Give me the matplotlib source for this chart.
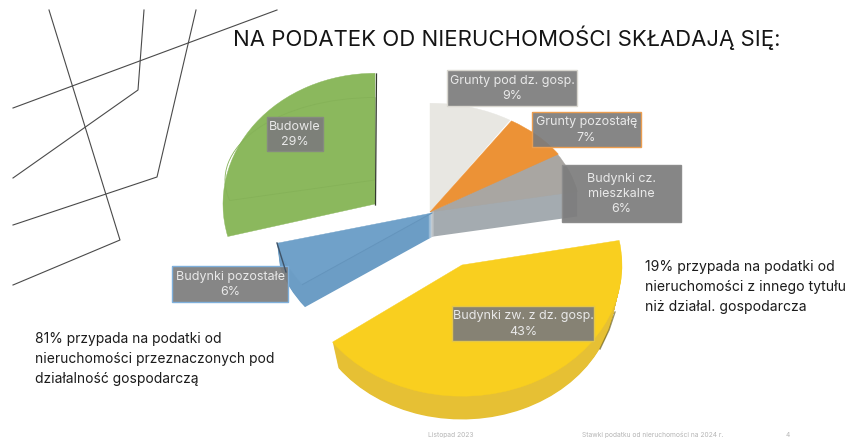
# -*- coding: utf-8 -*-
"""
exploded 3D-looking pie of the property tax shares, drawn from flat wedges
"""

import matplotlib
matplotlib.use('Agg')
import matplotlib.pyplot as plt
import numpy as np
from matplotlib.patches import Rectangle, Wedge
from matplotlib.transforms import Affine2D

plt.rcParams['font.family'] = ['Inter', 'DejaVu Sans']

# data, clockwise from twelve o'clock
categories = ['Grunty pod dz. gosp.', 'Grunty pozostałę', 'Budynki cz.\nmieszkalne',
              'Budynki zw. z dz. gosp.', 'Budynki pozostałe', 'Budowle']
shares = [9, 7, 6, 43, 6, 29]

title = 'NA PODATEK OD NIERUCHOMOŚCI SKŁADAJĄ SIĘ:'
note_left = '81% przypada na podatki od\nnieruchomości przeznaczonych pod\ndziałalność gospodarczą'
note_right = '19% przypada na podatki od\nnieruchomości z innego tytułu\nniż działal. gospodarcza'
footer = ['Listopad 2023', 'Stawki podatku od nieruchomości na 2024 r.', '4']

# look of each slice, in pixels of the picture
apex_x = [430, 430, 430, 462, 432, 375]
apex_y = [212, 212, 212, 265, 213, 204]
radius = [149, 152, 150, 160, 160, 152]
squash = [0.73, 0.71, 0.73, 0.82, 0.76, 0.86]
depth = [0, 0, 25, 29, 24, 0]
shrink = [0, 0, 0, 7, 3, 0]
top_col = ['#e8e7e2', '#ec9236', '#a9a6a2', '#f9cf1f', '#70a1c9', '#8bb85d']
side_col = ['#e8e7e2', '#ec9236', '#a4abb0', '#e6c034', '#6c9dc5', '#8bb85d']
draw_order = [0, 2, 1, 4, 5, 3]

# label boxes: left, top, right, bottom
boxes = [(447, 70, 577, 106), (532, 112, 641, 147), (562, 165, 681, 222),
         (452, 306, 594, 341), (172, 266, 288, 302), (267, 117, 323, 151)]
box_edge = ['#d9d7d0', '#ec9e50', '#8c8c8c', '#e3c64a', '#7fb0dc', '#858a80']

# thin lines in the corner
corner_lines = [
    ([49, 120, 13], [10, 240, 285]),
    ([144, 138, 13], [10, 90, 178]),
    ([196, 157, 13], [10, 177, 225]),
    ([277, 13], [10, 108]),
]


def slice_transform(i, shift=0):
    return Affine2D().scale(1, -squash[i]).translate(apex_x[i], apex_y[i] + shift) + ax.transData


fig = plt.figure(figsize=(8.47, 4.4), dpi=100)
ax = fig.add_axes([0, 0, 1, 1])
ax.set_xlim(0, 847)
ax.set_ylim(440, 0)
ax.axis('off')

for xs, ys in corner_lines:
    ax.plot(xs, ys, color='#4a4a4a', lw=0.8)

# wedge angles come from the shares
ends = 90 - np.cumsum(shares) / sum(shares) * 360
starts = np.concatenate([[90], ends[:-1]])

for i in draw_order:
    for d in np.arange(depth[i], 0, -1):
        r = radius[i] - shrink[i] * d / depth[i]
        ax.add_patch(Wedge((0, 0), r, ends[i], starts[i], fc=side_col[i], ec='none',
                           transform=slice_transform(i, d)))
    ax.add_patch(Wedge((0, 0), radius[i], ends[i], starts[i], fc=top_col[i], ec=top_col[i],
                       lw=0.3, transform=slice_transform(i)))

# seam between top and side of the blue slice
i = categories.index('Budynki pozostałe')
a = np.radians(starts[i])
ax.plot([apex_x[i], apex_x[i] + radius[i] * np.cos(a)],
        [apex_y[i], apex_y[i] - squash[i] * radius[i] * np.sin(a)], color='#6494bc', lw=0.7)
ax.plot([277, 281, 286], [243, 256, 272], color='#3f5368', lw=1.0)

# green slice: faint inner outline and the dark right edge
i = categories.index('Budowle')
ax.add_patch(Wedge((0, 0), 150, ends[i], starts[i], fc='none', ec='#85b258', lw=0.6,
                   transform=Affine2D().scale(1, -0.55).translate(375, 180) + ax.transData))
ax.plot([376.5, 375.5], [74, 205], color='#33392f', lw=0.9)

# dark shade where the yellow rim turns away
ax.plot([615, 609, 600], [312, 330, 349], color='#6f6320', lw=1.0, alpha=0.7)

for cat, val, (x0, y0, x1, y1), edge in zip(categories, shares, boxes, box_edge):
    ax.add_patch(Rectangle((x0, y0), x1 - x0, y1 - y0, fc='#7c7c7c', ec='none', alpha=0.92))
    ax.add_patch(Rectangle((x0, y0), x1 - x0, y1 - y0, fc='none', ec=edge, lw=1.0))
    ax.text((x0 + x1) / 2, (y0 + y1) / 2 + 0.5, f'{cat}\n{val}%', color='#e9e9e9', fontsize=9,
            ha='center', va='center', linespacing=1.35)

ax.text(233, 38, title, fontsize=15.9, color='#151515', va='center', ha='left')
ax.text(35, 359, note_left, fontsize=9.95, color='#1c1c1c', va='center', linespacing=1.55)
ax.text(645, 287, note_right, fontsize=10.1, color='#1c1c1c', va='center', linespacing=1.55)

for x, txt in zip([428, 582, 786], footer):
    ax.text(x, 435, txt, fontsize=4.8, color='#b5b5b5', va='center')

fig.savefig('out.png', dpi=100)
